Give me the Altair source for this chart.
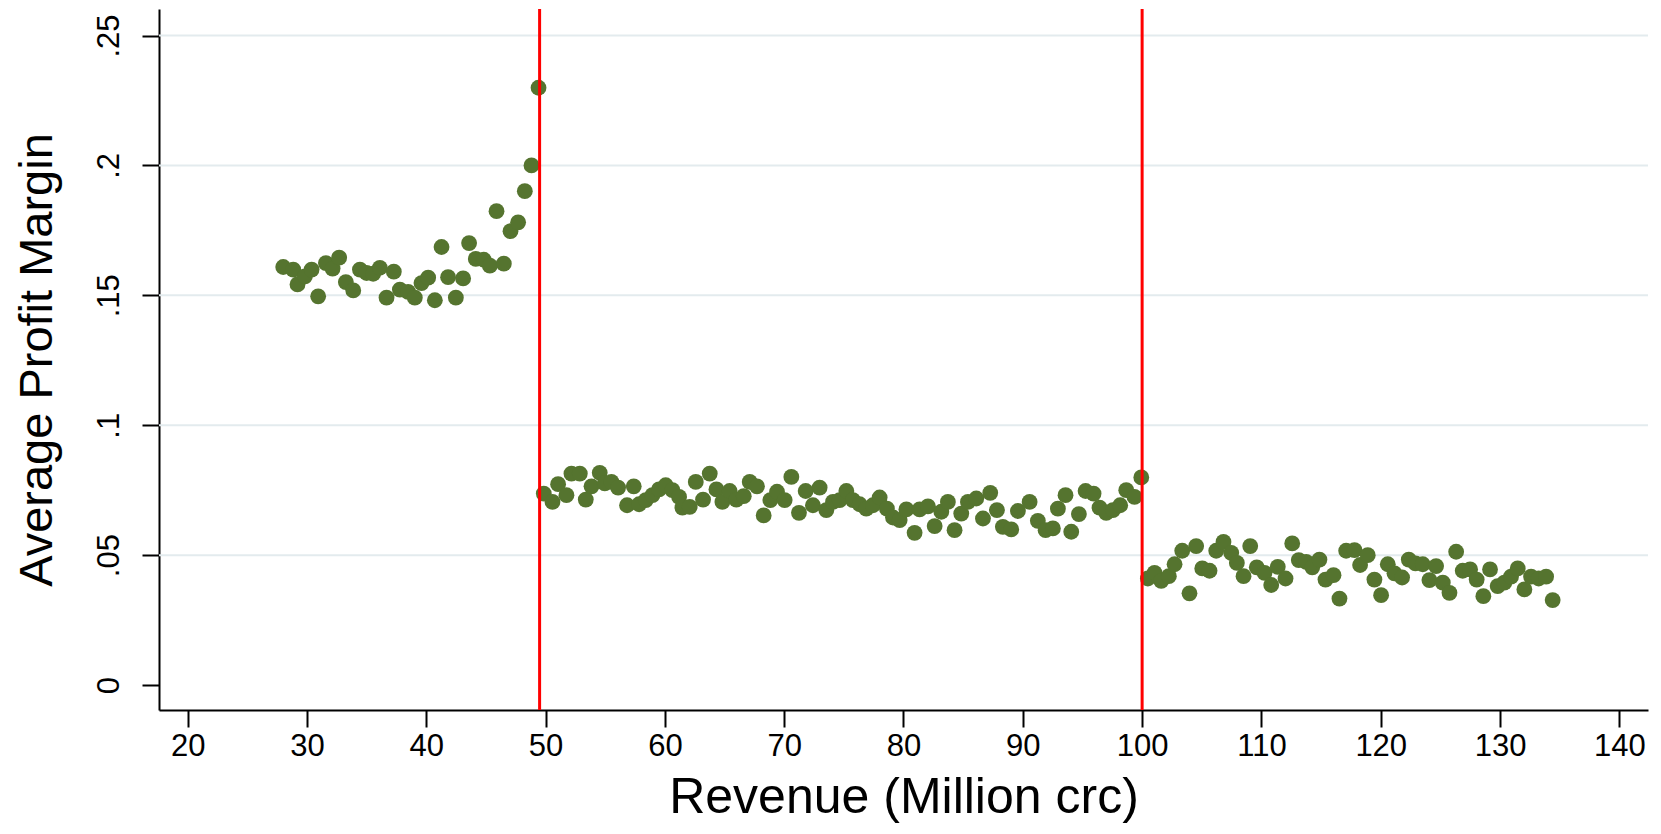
import altair as alt
import pandas as pd

# Binned revenue (million crc) and average profit margin
revenue = [
    28.01, 28.85, 29.21, 29.83, 30.39, 30.94, 31.59, 32.15, 32.70, 33.26,
    33.88, 34.44, 35.00, 35.55, 36.11, 36.67, 37.28, 37.79, 38.48, 39.04,
    39.60, 40.16, 40.72, 41.28, 41.83, 42.48, 43.09, 43.59, 44.15, 44.82,
    45.33, 45.89, 46.50, 47.06, 47.70, 48.26, 48.82, 49.41,
    49.85, 50.58, 51.05, 51.75, 52.17, 52.87, 53.37, 53.85, 54.54, 54.96,
    55.52, 56.08, 56.83, 57.39, 57.84, 58.40, 58.96, 59.51, 60.07, 60.63,
    61.19, 61.47, 62.08, 62.59, 63.20, 63.76, 64.32, 64.82, 65.43, 65.99,
    66.61, 67.11, 67.72, 68.28, 68.84, 69.40, 70.04, 70.60, 71.24, 71.80,
    72.41, 72.97, 73.53, 74.09, 74.65, 75.21, 75.76, 76.32, 76.88, 77.44,
    78.00, 78.61, 79.12, 79.68, 80.24, 80.93, 81.35, 82.05, 82.61, 83.17,
    83.72, 84.28, 84.84, 85.40, 86.10, 86.66, 87.27, 87.83, 88.33, 89.03,
    89.59, 90.57, 91.26, 91.91, 92.52, 92.94, 93.58, 94.06, 94.70, 95.26,
    95.93, 96.43, 96.99, 97.55, 98.16, 98.67, 99.36, 99.93,
    100.48, 101.04, 101.60, 102.24, 102.72, 103.36, 103.97, 104.53, 105.04, 105.65,
    106.21, 106.82, 107.47, 107.94, 108.50, 109.06, 109.61, 110.26, 110.82, 111.37,
    112.02, 112.58, 113.13, 113.75, 114.26, 114.86, 115.37, 116.04, 116.54, 117.10,
    117.80, 118.27, 118.91, 119.47, 120.03, 120.59, 121.15, 121.79, 122.35, 122.91,
    123.52, 124.08, 124.64, 125.20, 125.76, 126.32, 126.87, 127.49, 128.04, 128.60,
    129.16, 129.80, 130.36, 130.92, 131.48, 132.04, 132.60, 133.24, 133.86, 134.41,
]
margin = [
    0.1609, 0.1599, 0.1542, 0.1573, 0.1599, 0.1496, 0.1624, 0.1603, 0.1645, 0.1551,
    0.1519, 0.1599, 0.1586, 0.1583, 0.1606, 0.1491, 0.1591, 0.1522, 0.1513, 0.1491,
    0.1547, 0.1568, 0.1481, 0.1686, 0.1570, 0.1491, 0.1565, 0.1701, 0.1640, 0.1637,
    0.1614, 0.1824, 0.1622, 0.1747, 0.1781, 0.1901, 0.2000, 0.2299,
    0.0737, 0.0705, 0.0773, 0.0731, 0.0814, 0.0814, 0.0714, 0.0765, 0.0817, 0.0776,
    0.0782, 0.0760, 0.0692, 0.0765, 0.0696, 0.0712, 0.0731, 0.0753, 0.0769, 0.0750,
    0.0724, 0.0683, 0.0686, 0.0782, 0.0714, 0.0814, 0.0753, 0.0705, 0.0747, 0.0714,
    0.0727, 0.0782, 0.0765, 0.0653, 0.0712, 0.0744, 0.0712, 0.0801, 0.0663, 0.0747,
    0.0692, 0.0760, 0.0673, 0.0705, 0.0712, 0.0747, 0.0712, 0.0696, 0.0679, 0.0692,
    0.0722, 0.0679, 0.0645, 0.0635, 0.0676, 0.0586, 0.0676, 0.0688, 0.0612, 0.0667,
    0.0705, 0.0596, 0.0660, 0.0705, 0.0718, 0.0641, 0.0740, 0.0673, 0.0609, 0.0599,
    0.0670, 0.0705, 0.0632, 0.0596, 0.0603, 0.0679, 0.0731, 0.0590, 0.0658, 0.0747,
    0.0737, 0.0683, 0.0663, 0.0673, 0.0692, 0.0750, 0.0724, 0.0799,
    0.0410, 0.0432, 0.0401, 0.0419, 0.0465, 0.0517, 0.0353, 0.0535, 0.0449, 0.0440,
    0.0517, 0.0551, 0.0509, 0.0470, 0.0419, 0.0535, 0.0453, 0.0432, 0.0385, 0.0455,
    0.0410, 0.0545, 0.0481, 0.0474, 0.0453, 0.0483, 0.0406, 0.0423, 0.0333, 0.0517,
    0.0519, 0.0462, 0.0500, 0.0406, 0.0346, 0.0465, 0.0430, 0.0414, 0.0483, 0.0468,
    0.0465, 0.0404, 0.0458, 0.0394, 0.0355, 0.0513, 0.0440, 0.0445, 0.0406, 0.0342,
    0.0445, 0.0381, 0.0394, 0.0417, 0.0449, 0.0368, 0.0417, 0.0410, 0.0417, 0.0327,
]
cutoffs = [49.5, 100]
grid_levels = [0.05, 0.1, 0.15, 0.2, 0.25]
x_ticks = [20, 30, 40, 50, 60, 70, 80, 90, 100, 110, 120, 130, 140]
y_ticks = [0, 0.05, 0.1, 0.15, 0.2, 0.25]

FONT = "Liberation Sans"
W, H = 1489, 701

df = pd.DataFrame({"revenue": revenue, "margin": margin})
xscale = alt.Scale(domain=[17.6, 142.4], nice=False, zero=False)
yscale = alt.Scale(domain=[-0.0096, 0.2602], nice=False, zero=False)

x_axis = alt.Axis(
    values=x_ticks,
    title="Revenue (Million crc)",
    grid=False,
    domainColor="black",
    domainWidth=2,
    tickColor="black",
    tickWidth=2,
    tickSize=17,
    labelFontSize=31,
    labelPadding=4,
    labelColor="black",
    labelFlush=False,
    labelOverlap=False,
    titleFontSize=50,
    titleFontWeight="normal",
    titleColor="black",
    titleX=744.5,
    titleY=102,
    titleAlign="center",
    titleBaseline="alphabetic",
)
y_axis = alt.Axis(
    values=y_ticks,
    labelExpr="datum.value == 0 ? '0' : substring(format(datum.value, '~g'), 1)",
    title="Average Profit Margin",
    grid=False,
    domainColor="black",
    domainWidth=2,
    tickColor="black",
    tickWidth=2,
    tickSize=17,
    labelFontSize=31,
    labelAngle=270,
    labelAlign="center",
    labelBaseline="bottom",
    labelPadding=17,
    labelColor="black",
    labelOverlap=False,
    titleFontSize=47,
    titleFontWeight="normal",
    titleColor="black",
    titleAngle=270,
    titleX=-122,
    titleY=350.5,
    titleAlign="center",
    titleBaseline="middle",
)

grid = alt.Chart(pd.DataFrame({"margin": grid_levels})).mark_rule(
    color="#e3ebee", strokeWidth=2
).encode(y=alt.Y("margin:Q", scale=yscale, axis=y_axis))

points = alt.Chart(df).mark_circle(size=250, color="#55742f", opacity=1).encode(
    x=alt.X("revenue:Q", scale=xscale, axis=x_axis),
    y=alt.Y("margin:Q", scale=yscale, axis=y_axis),
)

vlines = alt.Chart(pd.DataFrame({"revenue": cutoffs})).mark_rule(
    color="#ff0000", strokeWidth=3
).encode(x=alt.X("revenue:Q", scale=xscale, axis=x_axis))

chart = (
    alt.layer(grid, points, vlines)
    .properties(
        width=W,
        height=H,
        autosize=alt.AutoSizeParams(type="none"),
        padding={"left": 151, "top": 1, "right": 4, "bottom": 114},
        background="white",
    )
    .configure(font=FONT)
    .configure_view(stroke="transparent")
)

chart.save("out.html", embed_options={"renderer": "svg", "actions": False})
